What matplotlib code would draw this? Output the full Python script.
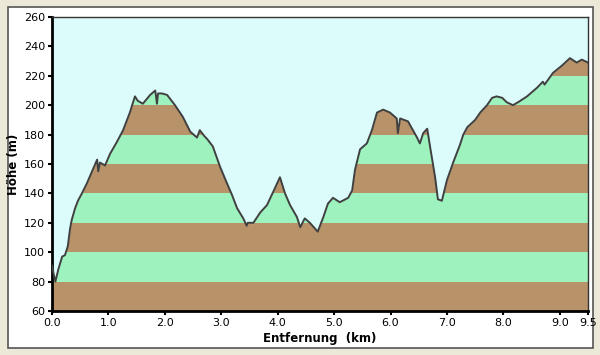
import matplotlib
matplotlib.use("Agg")
import matplotlib.pyplot as plt
from matplotlib.patches import Rectangle

# profile data (km, m)
dist = [0.00, 0.03, 0.06, 0.11, 0.18, 0.23, 0.28, 0.32, 0.35, 0.41, 0.46, 0.53,
        0.62, 0.71, 0.80, 0.82, 0.85, 0.94, 1.03, 1.15, 1.26, 1.38, 1.47, 1.52,
        1.61, 1.74, 1.83, 1.85, 1.86, 1.88, 1.95, 2.04, 2.18, 2.32, 2.45, 2.57,
        2.62, 2.66, 2.70, 2.75, 2.85, 2.98, 3.10, 3.19, 3.28, 3.39, 3.45, 3.47,
        3.57, 3.69, 3.81, 3.92, 4.04, 4.13, 4.22, 4.34, 4.40, 4.48, 4.57, 4.71,
        4.81, 4.89, 4.98, 5.10, 5.25, 5.32, 5.37, 5.46, 5.58, 5.67, 5.76, 5.87,
        5.99, 6.11, 6.13, 6.17, 6.31, 6.47, 6.52, 6.58, 6.65, 6.70, 6.79, 6.84,
        6.91, 7.00, 7.11, 7.23, 7.29, 7.36, 7.50, 7.59, 7.71, 7.80, 7.88, 7.98,
        8.06, 8.17, 8.26, 8.42, 8.60, 8.70, 8.73, 8.88, 9.04, 9.18, 9.30, 9.39,
        9.50]
elev = [91, 85, 80, 88, 97, 98, 104, 116, 122, 130, 135, 140,
        147, 155, 163, 155, 161, 159, 167, 175, 183, 195, 206, 203,
        201, 207, 210, 204, 201, 208, 208, 207, 200, 192, 182, 178,
        183, 181, 179, 177, 172, 158, 147, 139, 130, 123, 118, 120,
        120, 127, 132, 141, 151, 140, 132, 124, 117, 123, 120, 114,
        124, 133, 137, 134, 137, 142, 156, 170, 174, 183, 195, 197,
        195, 191, 181, 191, 189, 178, 174, 181, 184, 172, 151, 136,
        135, 149, 161, 173, 180, 185, 190, 195, 200, 205, 206, 205,
        202, 200, 202, 206, 212, 216, 214, 222, 227, 232, 229, 231,
        229]

band_edges = [60, 80, 100, 120, 140, 160, 180, 200, 220, 240, 260]
xticks = [0.0, 1.0, 2.0, 3.0, 4.0, 5.0, 6.0, 7.0, 8.0, 9.0, 9.5]
yticks = [60, 80, 100, 120, 140, 160, 180, 200, 220, 240, 260]

brown = '#B89268'
green = '#9EF2BE'
sky = '#DCFCFC'

fig = plt.figure(figsize=(6, 3.55), dpi=100)
fig.patch.set_facecolor('#ECE9D8')

# white panel with border, behind the axes
fig.patches.append(Rectangle((8/600, 1-348/355), 585/600, 341/355,
                             transform=fig.transFigure, facecolor='white',
                             edgecolor='#555555', linewidth=1.2, zorder=-10))

ax = fig.add_axes([52/600, 1-311/355, 536/600, 294/355])

#alternating bands
for i in range(len(band_edges)-1):
    ax.axhspan(band_edges[i], band_edges[i+1],
               color=brown if i % 2 == 0 else green, lw=0, zorder=1)

# sky above the profile
ax.fill_between(dist, elev, 260, color=sky, lw=0, zorder=2)
ax.plot(dist, elev, color='#404040', lw=1.4, zorder=3)

ax.set_xlim(0, 9.5)
ax.set_ylim(60, 260)
ax.set_xticks(xticks)
ax.set_xticklabels(['%.1f' % t for t in xticks])
ax.set_yticks(yticks)
ax.tick_params(labelsize=8, length=3, width=1.5, direction='out', pad=2)

for s in ['top', 'right']:
    ax.spines[s].set_linewidth(1.0)
    ax.spines[s].set_color('#333333')
for s in ['left', 'bottom']:
    ax.spines[s].set_linewidth(2.0)

ax.set_xlabel('Entfernung  (km)', fontsize=8.5, fontweight='bold', labelpad=3)
ax.set_ylabel('Höhe (m)', fontsize=8.5, fontweight='bold', labelpad=3)

plt.savefig('out.png', dpi=100, facecolor=fig.get_facecolor())
